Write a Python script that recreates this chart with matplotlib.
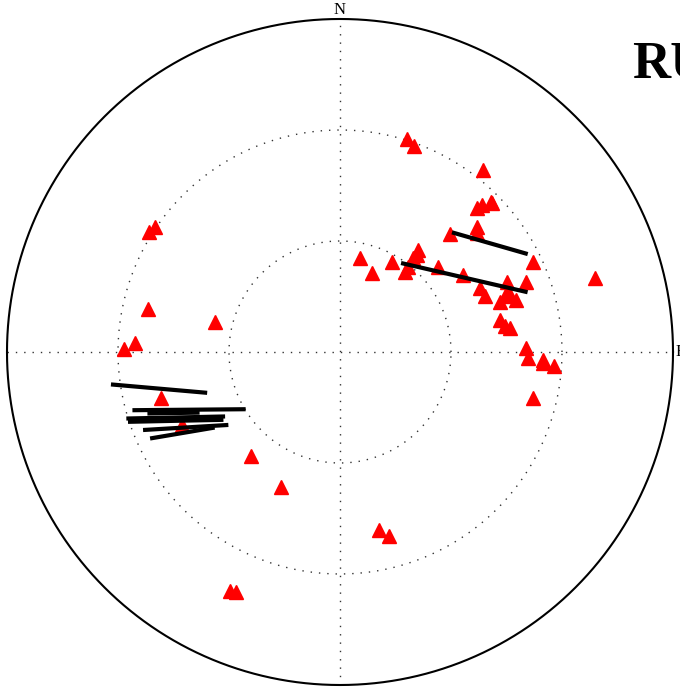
import numpy as np
import matplotlib
matplotlib.use("Agg")
import matplotlib.pyplot as plt

# station label (runs off the right edge in the original)
station = "RUE"

# event positions, east / north (dotted rings at 1 and 2, outer ring at 3)
ev_east = [0.60, 0.67, 1.29, 1.23, 1.28, 1.36, 1.37, 1.23, 1.23, 0.99,
           1.74, 0.47, 0.18, 0.29, 0.59, 0.61, 0.66, 0.70, 0.69, 0.88,
           1.11, 1.26, 1.31, 1.50, 1.68, 1.51, 1.49, 1.44, 1.53, 1.59,
           1.44, 1.49, 1.53, 1.68, 1.69, 1.83, 1.83, 1.93, 1.74, 2.30,
           -1.72, -1.67, -1.73, -1.95, -1.85, -1.13, -1.61, -1.42, -0.80, -0.53,
           0.35, 0.44, -0.99, -0.94]
ev_north = [1.92, 1.86, 1.64, 1.30, 1.32, 1.35, 1.34, 1.13, 1.07, 1.06,
            0.81, 0.81, 0.85, 0.71, 0.72, 0.77, 0.85, 0.92, 0.87, 0.77,
            0.69, 0.58, 0.50, 0.63, 0.63, 0.53, 0.50, 0.45, 0.51, 0.47,
            0.29, 0.23, 0.22, 0.04, -0.05, -0.07, -0.10, -0.13, -0.41, 0.67,
            1.08, 1.13, 0.39, 0.03, 0.08, 0.27, -0.41, -0.66, -0.94, -1.22,
            -1.60, -1.66, -2.15, -2.16]

# splitting results: centre east/north, fast direction (deg from N), bar length
sp_east = [1.35, 1.12, -1.63, -1.36, -1.50, -1.48, -1.48, -1.39, -1.42]
sp_north = [0.98, 0.67, -0.33, -0.52, -0.55, -0.59, -0.62, -0.68, -0.73]
sp_phi = [106, 103, 95, 89.5, 89, 88.8, 88.8, 86.6, 80.4]
sp_len = [0.71, 1.17, 0.87, 1.02, 0.47, 0.89, 0.86, 0.77, 0.59]

fig = plt.figure(figsize=(6.8, 6.92), dpi=100)
ax = fig.add_axes([0, 0, 1, 1])
ax.set_xlim(-3.063, 3.063)
ax.set_ylim(-3.063, 3.171)
ax.set_aspect("equal")
ax.axis("off")

t = np.linspace(0, 2 * np.pi, 721)
R = 3.0
ax.plot(R * np.cos(t), R * np.sin(t), color="black", lw=1.5, zorder=2)
dots = (0, (1, 5))
for r in [1, 2]:
    ax.plot(r * np.cos(t), r * np.sin(t), color="0.2", lw=1, ls=dots, zorder=1)
ax.plot([-R, R], [0, 0], color="0.2", lw=1, ls=dots, zorder=1)
ax.plot([0, 0], [-R, R], color="0.2", lw=1, ls=dots, zorder=1)

ax.text(0, R + 0.01, "N", ha="center", va="bottom", fontsize=12,
        family="Liberation Serif")
ax.text(R + 0.02, 0, "E", ha="left", va="center", fontsize=12,
        family="Liberation Serif")
ax.text(2.63, 2.47, station, ha="left", va="baseline", fontsize=38,
        fontweight="bold", family="Liberation Serif")

ax.plot(ev_east, ev_north, ls="none", marker="^", ms=10, color="red",
        markeredgecolor="red", zorder=3)

for e, n, phi, ln in zip(sp_east, sp_north, sp_phi, sp_len):
    a = np.radians(phi)
    dx = 0.5 * ln * np.sin(a)
    dy = 0.5 * ln * np.cos(a)
    ax.plot([e - dx, e + dx], [n - dy, n + dy], color="black", lw=3,
            solid_capstyle="butt", zorder=4)

fig.savefig("out.png", dpi=100)
